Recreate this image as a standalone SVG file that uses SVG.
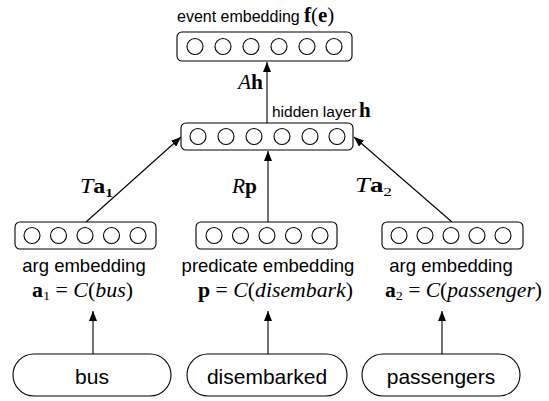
<svg xmlns="http://www.w3.org/2000/svg" width="549" height="401" viewBox="0 0 549 401">
<style>
.box{fill:#fff;stroke:#000;stroke-width:1.1}
.unit{fill:#fff;stroke:#000;stroke-width:1.1}
.pill{fill:#fff;stroke:#000;stroke-width:1.1}
.edge{stroke:#000;stroke-width:1.1;fill:none}
.sans{font-family:"Liberation Sans",Arial,sans-serif;fill:#000}
.math{font-family:"Liberation Serif","Times New Roman",serif;fill:#000}
.it{font-style:italic}
.bf{font-weight:bold}
</style>
<defs>
<marker id="ah" markerUnits="userSpaceOnUse" markerWidth="10" markerHeight="8" refX="10" refY="4" orient="auto">
<path d="M0,0 L10,4 L0,8 z" fill="#000"/>
</marker>
</defs>
<rect width="549" height="401" fill="#fff"/>

<g id="connectors">
<line class="edge" x1="267" y1="123" x2="267" y2="62" marker-end="url(#ah)"/>
<line class="edge" x1="268" y1="222" x2="268" y2="151" marker-end="url(#ah)"/>
<line class="edge" x1="86" y1="222" x2="181" y2="137" marker-end="url(#ah)"/>
<line class="edge" x1="452" y1="222" x2="354" y2="137" marker-end="url(#ah)"/>
<line class="edge" x1="93" y1="354" x2="93" y2="311" marker-end="url(#ah)"/>
<line class="edge" x1="268" y1="354" x2="268" y2="311" marker-end="url(#ah)"/>
<line class="edge" x1="442" y1="354" x2="442" y2="311" marker-end="url(#ah)"/>
<text class="math" x="238" y="89" font-size="20" textLength="25" lengthAdjust="spacingAndGlyphs"><tspan class="it">A</tspan><tspan class="bf">h</tspan></text>
<text class="math" x="80" y="193" font-size="20" textLength="33" lengthAdjust="spacingAndGlyphs"><tspan class="it">T</tspan><tspan class="bf">a</tspan><tspan class="bf" font-size="13" dy="4">1</tspan></text>
<text class="math" x="232" y="193" font-size="20" textLength="25" lengthAdjust="spacingAndGlyphs"><tspan class="it">R</tspan><tspan class="bf">p</tspan></text>
<text class="math" x="355" y="192" font-size="20" textLength="37" lengthAdjust="spacingAndGlyphs"><tspan class="it">T</tspan><tspan class="bf">a</tspan><tspan font-size="13" dy="4">2</tspan></text>
</g>

<g id="event-embedding">
<rect class="box" x="177" y="32" width="175" height="29" rx="5"/>
<circle class="unit" cx="195" cy="46.5" r="8"/>
<circle class="unit" cx="223" cy="46.5" r="8"/>
<circle class="unit" cx="251" cy="46.5" r="8"/>
<circle class="unit" cx="279" cy="46.5" r="8"/>
<circle class="unit" cx="307" cy="46.5" r="8"/>
<circle class="unit" cx="334" cy="46.5" r="8"/>
<text class="sans" x="177" y="22" font-size="16">event embedding</text>
<text class="math" x="304" y="22" font-size="21"><tspan class="bf">f</tspan>(<tspan class="bf">e</tspan>)</text>
</g>

<g id="hidden-layer">
<rect class="box" x="181" y="123" width="172" height="27" rx="5"/>
<circle class="unit" cx="198" cy="136.5" r="8"/>
<circle class="unit" cx="226" cy="136.5" r="8"/>
<circle class="unit" cx="254" cy="136.5" r="8"/>
<circle class="unit" cx="282" cy="136.5" r="8"/>
<circle class="unit" cx="310" cy="136.5" r="8"/>
<circle class="unit" cx="337" cy="136.5" r="8"/>
<text class="sans" x="272" y="117" font-size="15.5">hidden layer</text>
<text class="math bf" x="359" y="117" font-size="21">h</text>
</g>

<g id="arg1-embedding">
<rect class="box" x="15" y="222" width="141" height="27" rx="5"/>
<circle class="unit" cx="32" cy="235.5" r="8"/>
<circle class="unit" cx="58.5" cy="235.5" r="8"/>
<circle class="unit" cx="85" cy="235.5" r="8"/>
<circle class="unit" cx="111.5" cy="235.5" r="8"/>
<circle class="unit" cx="138" cy="235.5" r="8"/>
<text class="sans" x="84" y="272" font-size="18.5" text-anchor="middle">arg embedding</text>
<text class="math" x="32" y="297" font-size="20" textLength="101" lengthAdjust="spacingAndGlyphs"><tspan class="bf">a</tspan><tspan font-size="13" dy="3">1</tspan><tspan dy="-3"> = </tspan><tspan class="it">C</tspan>(<tspan class="it">bus</tspan>)</text>
</g>

<g id="predicate-embedding">
<rect class="box" x="196" y="222" width="141" height="27" rx="5"/>
<circle class="unit" cx="214" cy="235.5" r="8"/>
<circle class="unit" cx="240.5" cy="235.5" r="8"/>
<circle class="unit" cx="267" cy="235.5" r="8"/>
<circle class="unit" cx="293.5" cy="235.5" r="8"/>
<circle class="unit" cx="320" cy="235.5" r="8"/>
<text class="sans" x="268" y="272" font-size="18.5" text-anchor="middle">predicate embedding</text>
<text class="math" x="198" y="297" font-size="20" textLength="155" lengthAdjust="spacingAndGlyphs"><tspan class="bf">p</tspan> = <tspan class="it">C</tspan>(<tspan class="it">disembark</tspan>)</text>
</g>

<g id="arg2-embedding">
<rect class="box" x="382" y="222" width="141" height="27" rx="5"/>
<circle class="unit" cx="399" cy="235.5" r="8"/>
<circle class="unit" cx="425" cy="235.5" r="8"/>
<circle class="unit" cx="451" cy="235.5" r="8"/>
<circle class="unit" cx="477" cy="235.5" r="8"/>
<circle class="unit" cx="503" cy="235.5" r="8"/>
<text class="sans" x="451" y="272" font-size="18.5" text-anchor="middle">arg embedding</text>
<text class="math" x="385" y="297" font-size="20" textLength="157" lengthAdjust="spacingAndGlyphs"><tspan class="bf">a</tspan><tspan font-size="13" dy="3">2</tspan><tspan dy="-3"> = </tspan><tspan class="it">C</tspan>(<tspan class="it">passenger</tspan>)</text>
</g>

<g id="bus">
<rect class="pill" x="13" y="354" width="158" height="42" rx="21"/>
<text class="sans" x="92" y="384" font-size="21" text-anchor="middle">bus</text>
</g>
<g id="disembarked">
<rect class="pill" x="187" y="354" width="160" height="42" rx="21"/>
<text class="sans" x="267" y="384" font-size="21" text-anchor="middle">disembarked</text>
</g>
<g id="passengers">
<rect class="pill" x="362" y="354" width="158" height="42" rx="21"/>
<text class="sans" x="441" y="384" font-size="21" text-anchor="middle">passengers</text>
</g>
</svg>
